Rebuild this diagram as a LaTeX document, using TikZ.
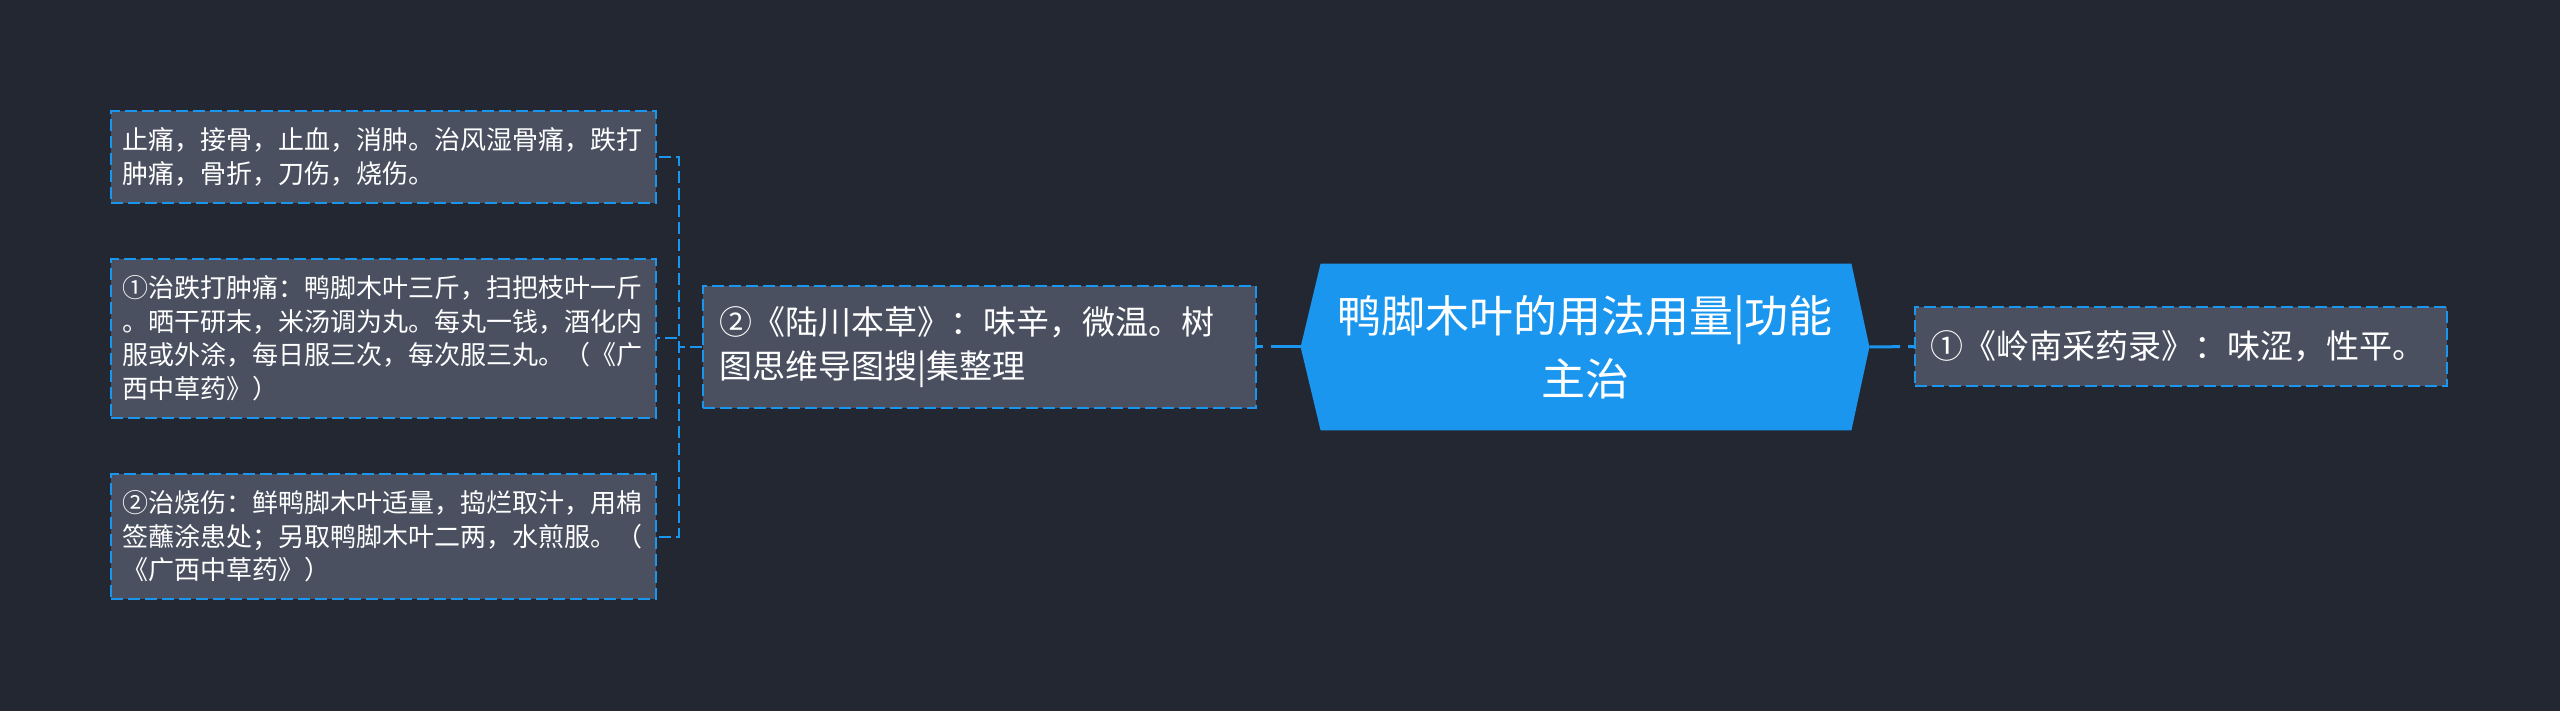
\documentclass[tikz,border=0pt]{standalone}
\usepackage{fontspec}
\usepackage{tikz}
\newfontfamily\cjkfont{Noto Sans CJK SC}
\definecolor{mapbg}{RGB}{35, 39, 50}
\definecolor{cardgrey}{RGB}{74, 80, 96}
\definecolor{mapblue}{RGB}{26, 150, 238}
\usetikzlibrary{positioning, calc, backgrounds}

\begin{document}
\begin{tikzpicture}[
    x=0.5pt, y=-0.5pt,
    card/.style={rectangle, draw=mapblue, fill=cardgrey, line width=1pt, dash pattern=on 6pt off 2.5pt, text=white, align=left, inner ysep=0pt},
    leaf/.style={card, font={\cjkfont\fontsize{13pt}{16.75pt}\selectfont}, text width=261pt, inner xsep=5.75pt},
    branch/.style={card, font={\cjkfont\fontsize{16.5pt}{22pt}\selectfont}},
    topic/.style={rectangle, text=white, align=center, inner sep=0pt, text width=284pt, minimum height=83pt, font={\cjkfont\fontsize{22pt}{31.5pt}\selectfont}},
    link/.style={draw=mapblue, line width=1pt, dash pattern=on 6pt off 2.5pt},
    mainlink/.style={draw=mapblue, line width=1.5pt, dash pattern=on 3pt off 4pt on 40pt}
]
    \node[topic] (topic) at (1585, 347) {鸭脚木叶的用法用量|功能\\主治};

    \node[branch, text width=260pt, inner xsep=8.25pt, minimum height=61pt] (luchuan) at (979.5, 347) {②《陆川本草》：味辛，微温。树\\图思维导图搜|集整理};
    \node[branch, text width=251pt, inner xsep=7.5pt, minimum height=39.5pt] (lingnan) at (2181, 346.5) {①《岭南采药录》：味涩，性平。};

    \node[leaf, minimum height=46pt] (use) at (383.5, 157) {止痛，接骨，止血，消肿。治风湿骨痛，跌打\\肿痛，骨折，刀伤，烧伤。};
    \node[leaf, minimum height=79.5pt] (rx1) at (383.5, 338.5) {①治跌打肿痛：鸭脚木叶三斤，扫把枝叶一斤\\。晒干研末，米汤调为丸。每丸一钱，酒化内\\服或外涂，每日服三次，每次服三丸。（《广\\西中草药》）};
    \node[leaf, minimum height=62.5pt] (rx2) at (383.5, 536.5) {②治烧伤：鲜鸭脚木叶适量，捣烂取汁，用棉\\签蘸涂患处；另取鸭脚木叶二两，水煎服。（\\《广西中草药》）};

    \begin{scope}[on background layer]
        \fill[mapbg] (0, 0) rectangle (2560, 711);
        \fill[mapblue] (topic.west) -- ([xshift=10pt]topic.north west) -- ([xshift=-9pt]topic.north east) -- (topic.east) -- ([xshift=-9pt]topic.south east) -- ([xshift=10pt]topic.south west) -- cycle;
    \end{scope}

    \draw[mainlink] (luchuan.east) -- (topic.west);
    \draw[mainlink] (lingnan.west) -- (topic.east);

    \draw[link] (luchuan.west) -- ++(-23, 0) |- (use.east);
    \draw[link] (luchuan.west) -- ++(-23, 0) |- (rx1.east);
    \draw[link] (luchuan.west) -- ++(-23, 0) |- (rx2.east);
\end{tikzpicture}
\end{document}
